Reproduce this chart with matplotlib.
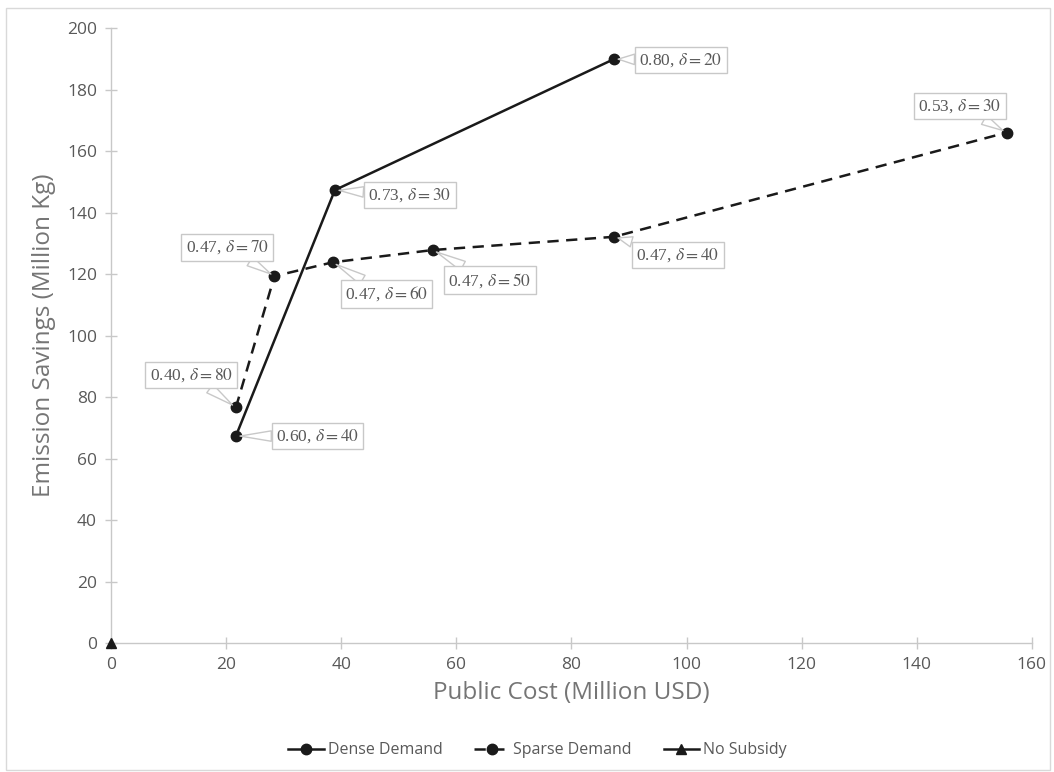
import matplotlib
matplotlib.use("Agg")
import matplotlib.pyplot as plt
from matplotlib.patches import Rectangle

# Dense demand frontier
dense_cost = [21.7, 38.9, 87.4]
dense_savings = [67.3, 147.3, 189.9]
dense_labels = ["0.60, $\\delta = 40$", "0.73, $\\delta = 30$", "0.80, $\\delta = 20$"]

# Sparse demand frontier
sparse_cost = [21.7, 28.4, 38.5, 55.9, 87.4, 155.6]
sparse_savings = [76.6, 119.3, 123.8, 127.8, 132.1, 166.0]
sparse_labels = ["0.40, $\\delta = 80$", "0.47, $\\delta = 70$", "0.47, $\\delta = 60$",
                 "0.47, $\\delta = 50$", "0.47, $\\delta = 40$", "0.53, $\\delta = 30$"]

# No subsidy baseline
base_cost = [0]
base_savings = [0]

# callout box centres (data coords)
dense_label_pos = [(35.9, 67.3), (51.9, 145.7), (99.0, 189.6)]
sparse_label_pos = [(13.9, 87.2), (20.2, 128.6), (47.9, 113.5),
                    (65.8, 118.0), (98.5, 126.2), (147.5, 174.6)]

plt.rcParams["mathtext.fontset"] = "stix"
SANS = ["Open Sans", "DejaVu Sans"]
GREY = "#595959"
LIGHT = "#c8c8c8"

fig = plt.figure(figsize=(10.54, 7.72), dpi=100)
ax = fig.add_axes([0.1053, 0.1671, 0.979 - 0.1053, 0.9637 - 0.1671])

fig.patches.append(Rectangle((0.006, 0.003), 0.99, 0.986, transform=fig.transFigure,
                             fill=False, ec="#d9d9d9", lw=1.0))

ax.plot(dense_cost, dense_savings, "-", color="#1a1a1a", lw=1.8, marker="o", ms=7.5,
        label="Dense Demand", zorder=3)
ax.plot(sparse_cost, sparse_savings, "--", color="#1a1a1a", lw=1.8, marker="o", ms=7.5,
        dashes=(4.5, 3), label="Sparse Demand", zorder=3)
ax.plot(base_cost, base_savings, "-", color="#1a1a1a", lw=1.8, marker="^", ms=7.5,
        label="No Subsidy", zorder=4, clip_on=False)

def callout(txt, xy, xytext):
    ax.annotate(txt, xy=xy, xytext=xytext, ha="center", va="center",
                fontsize=12.5, color=GREY, family="Liberation Serif",
                bbox=dict(boxstyle="square,pad=0.25", fc="white", ec=LIGHT, lw=1.0),
                arrowprops=dict(arrowstyle="wedge,tail_width=0.6", fc="white",
                                ec=LIGHT, lw=1.0, shrinkA=0, shrinkB=3),
                zorder=5)

for txt, x, y, pos in zip(dense_labels, dense_cost, dense_savings, dense_label_pos):
    callout(txt, (x, y), pos)
for txt, x, y, pos in zip(sparse_labels, sparse_cost, sparse_savings, sparse_label_pos):
    callout(txt, (x, y), pos)

ax.set_xlim(0, 160)
ax.set_ylim(0, 200)
ax.set_xticks(range(0, 161, 20))
ax.set_yticks(range(0, 201, 20))

for s in ("top", "right"):
    ax.spines[s].set_visible(False)
for s in ("left", "bottom"):
    ax.spines[s].set_color(LIGHT)
    ax.spines[s].set_linewidth(1.0)

ax.tick_params(direction="inout", length=8, width=1.0, color=LIGHT,
               labelcolor=GREY, labelsize=12.5, pad=6)
for lab in ax.get_xticklabels() + ax.get_yticklabels():
    lab.set_family(SANS)

ax.set_xlabel("Public Cost (Million USD)", fontsize=17.5, color="#757575",
              family=SANS, labelpad=6)
ax.set_ylabel("Emission Savings (Million Kg)", fontsize=17.5, color="#757575",
              family=SANS, labelpad=8)

leg = fig.legend(loc="center", bbox_to_anchor=(0.51, 0.028), ncol=3, frameon=False,
                 prop={"family": SANS, "size": 11.5}, handlelength=2.2,
                 columnspacing=2.0, handletextpad=0.25)
for t in leg.get_texts():
    t.set_color(GREY)

fig.savefig("out.png", dpi=100)
